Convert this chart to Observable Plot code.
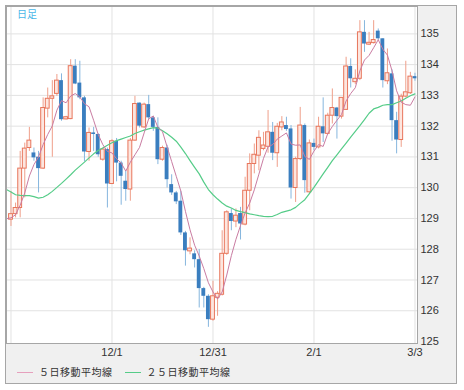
<!DOCTYPE html>
<html><head><meta charset="utf-8">
<script src="https://cdn.jsdelivr.net/npm/d3@7"></script>
<script src="https://cdn.jsdelivr.net/npm/@observablehq/plot@0.6"></script>
<style>
html,body{margin:0;padding:0;background:#fff;}
#frame{position:absolute;left:5px;top:5px;width:452px;height:379px;box-sizing:border-box;border:1px solid #a6a6a6;background:#f0f0f0;}
#chart{position:absolute;left:0;top:0;}
#title{position:absolute;left:11px;top:2px;font-family:"Noto Sans CJK JP",sans-serif;font-size:10px;line-height:12px;color:#4bb6e8;}
#legend{position:absolute;left:11px;top:360px;font-family:"Noto Sans CJK JP",sans-serif;font-size:10px;line-height:12px;color:#333;display:flex;align-items:center;letter-spacing:0.5px;white-space:nowrap;}
.sw{display:inline-block;width:16px;height:0;border-top:1px solid;margin-right:6px;}
.item{display:flex;align-items:center;margin-right:12px;}
</style></head><body>
<div id="frame"><div id="chart"></div><div id="title">日足</div>
<div id="legend"><span class="item"><span class="sw" id="sw5"></span><span>５日移動平均線</span></span><span class="item"><span class="sw" id="sw25"></span><span>２５日移動平均線</span></span></div></div>
<script>
// daily candles, index 0..88 (trading days)
const open  = [128.96,129.14,129.34,130.62,131.29,131.13,130.99,130.62,132.57,132.89,133.05,133.48,132.22,132.23,133.95,133.40,132.92,131.16,131.78,131.73,130.91,131.24,130.12,131.51,130.80,130.21,129.94,131.53,132.75,131.96,132.70,132.27,131.96,130.91,131.29,130.10,129.83,129.56,128.53,127.93,127.85,127.66,126.72,126.47,125.71,126.42,126.52,127.85,129.16,128.90,129.16,128.80,129.90,130.77,131.04,131.26,131.33,131.80,131.12,131.96,132.02,131.91,129.99,130.93,132.02,129.85,131.44,131.31,131.98,131.75,132.34,132.59,132.31,132.53,133.94,133.43,133.54,135.05,134.65,134.70,135.09,134.84,133.46,133.70,132.18,131.55,132.96,133.07,133.61];
const high  = [129.88,129.50,131.18,131.45,131.96,131.29,131.18,132.92,133.24,133.48,133.68,133.70,132.32,134.16,134.16,134.11,132.97,131.94,131.96,131.75,131.29,131.29,131.56,131.60,130.86,130.55,131.60,132.97,132.75,132.75,133.00,132.32,132.27,131.35,131.38,130.42,129.88,129.88,128.58,128.37,127.95,127.99,126.76,126.52,126.96,126.62,128.60,129.25,129.31,129.31,129.36,130.34,131.10,131.42,131.85,131.80,132.51,132.12,132.09,132.31,132.29,132.02,130.99,132.61,132.07,131.55,131.58,132.29,132.92,132.42,133.21,132.61,132.92,134.24,134.19,133.83,135.43,135.43,135.05,135.43,135.16,134.84,134.51,133.83,132.45,133.04,134.11,133.75,133.72];
const low   = [128.74,129.02,129.02,129.67,131.18,130.86,129.83,130.59,132.27,130.99,132.97,132.16,132.20,132.21,133.35,132.86,130.84,130.86,131.18,130.99,130.86,129.34,130.10,130.19,129.43,129.56,129.56,131.51,131.94,131.92,132.21,131.83,130.75,130.86,129.99,129.75,129.45,128.45,127.45,127.82,127.39,126.09,126.09,125.46,125.66,125.82,126.48,127.80,128.60,128.70,128.30,128.76,129.25,130.45,130.55,131.20,131.12,130.88,130.66,131.85,131.83,129.63,129.52,130.88,129.82,129.79,131.20,131.26,131.47,131.72,132.07,131.58,132.23,132.51,133.24,133.35,133.48,134.40,134.62,134.67,134.78,133.24,133.35,131.51,131.10,131.31,132.92,133.03,133.46];
const close = [129.14,129.34,130.62,131.27,131.53,130.97,130.62,132.59,132.89,132.97,133.48,132.21,132.29,133.95,133.37,132.92,131.16,131.78,131.73,131.07,131.24,130.12,131.51,130.80,130.37,129.94,131.53,132.72,132.00,132.70,132.27,131.96,130.91,131.29,130.26,129.83,129.54,128.53,127.95,128.02,127.66,126.72,126.47,125.71,126.47,126.55,127.85,129.20,128.90,129.09,128.82,129.90,130.77,131.07,131.62,131.37,131.80,131.12,131.98,132.12,131.89,129.99,130.93,132.02,130.23,131.44,131.31,131.98,131.75,132.34,132.59,132.31,132.92,133.94,133.54,133.54,135.05,134.67,134.71,134.80,134.84,133.48,133.72,132.18,131.55,132.96,133.10,133.61,133.54];

// moving averages, index -1..88
const ma5  = [128.99,129.02,129.12,129.43,129.83,130.38,130.75,131.00,131.40,131.73,132.01,132.52,132.83,132.76,132.98,133.06,132.95,132.73,132.63,132.19,131.73,131.40,131.18,131.13,130.94,130.80,130.54,130.83,131.07,131.31,131.78,132.24,132.33,131.96,131.82,131.33,130.85,130.37,129.89,129.23,128.63,128.13,127.78,127.37,126.91,126.61,126.38,126.61,127.16,127.79,128.32,128.77,129.18,129.50,129.93,130.44,130.95,131.33,131.40,131.58,131.68,131.78,131.42,131.38,131.39,131.01,130.92,131.19,131.40,131.34,131.76,131.99,132.19,132.38,132.82,133.06,133.25,133.80,134.15,134.30,134.55,134.81,134.50,134.31,133.80,133.15,132.78,132.70,132.68,132.95];
const ma25 = [129.94,129.86,129.77,129.75,129.74,129.74,129.71,129.66,129.69,129.77,129.88,130.01,130.14,130.28,130.42,130.57,130.70,130.83,130.97,131.10,131.21,131.29,131.38,131.46,131.53,131.58,131.63,131.68,131.76,131.82,131.87,131.91,131.95,131.94,131.85,131.75,131.64,131.51,131.32,131.11,130.88,130.66,130.45,130.18,129.94,129.77,129.63,129.50,129.40,129.34,129.26,129.22,129.19,129.15,129.12,129.09,129.07,129.06,129.07,129.13,129.20,129.24,129.28,129.36,129.49,129.61,129.81,130.01,130.23,130.45,130.66,130.88,131.07,131.26,131.45,131.64,131.83,132.02,132.21,132.42,132.56,132.61,132.68,132.70,132.70,132.76,132.82,132.91,132.99,133.05];

const yTicks = [125,126,127,128,129,130,131,132,133,134,135];
const gridDays = [0,22,44,66,88];
const tickDays = [22,44,66,88];
const tickLabels = ["12/1","12/31","2/1","3/3"];

const colUpStroke = "#e8765c", colUpFill = "#fde6df", colUpWick = "#ef9f8a";
const colDown = "#3a7ebf", colDownWick = "#86b6de";
const colMA5 = "#c97ca2", colMA25 = "#55cc88";

document.getElementById("sw5").style.borderColor = "#e6a0bd";
document.getElementById("sw25").style.borderColor = colMA25;

const candles = open.map((o, k) => ({i: k, open: o, high: high[k], low: low[k], close: close[k]}));
const ma5Rows = ma5.map((v, k) => ({i: k - 1, v}));
const ma25Rows = ma25.map((v, k) => ({i: k - 1, v}));
const up = d => d.close >= d.open;
const dn = d => d.close < d.open;
const hw = 0.42;

const chart = Plot.plot({
  width: 450, height: 360,
  marginLeft: 0, marginRight: 39, marginTop: 0, marginBottom: 23,
  style: {background: "transparent", fontFamily: "'Liberation Sans', Arial, sans-serif", fontSize: "11px", color: "#333", overflow: "visible"},
  x: {type: "linear", domain: [-0.98, 88.55]},
  y: {domain: [124.935, 135.89]},
  marks: [
    Plot.frame({fill: "#fff"}),
    Plot.gridY(yTicks.slice(1), {stroke: "#e2e2e2", strokeOpacity: 1}),
    Plot.gridX(gridDays, {stroke: "#e2e2e2", strokeOpacity: 1}),
    Plot.ruleX(candles, {filter: dn, x: "i", y1: "low", y2: "high", stroke: colDownWick}),
    Plot.ruleX(candles, {filter: up, x: "i", y1: "low", y2: "high", stroke: colUpWick}),
    Plot.rect(candles, {filter: dn, x1: d => d.i - hw, x2: d => d.i + hw, y1: "open", y2: "close", fill: colDown}),
    Plot.rect(candles, {filter: up, x1: d => d.i - hw, x2: d => d.i + hw, y1: "open", y2: "close", fill: colUpFill, stroke: colUpStroke}),
    Plot.line(ma25Rows, {x: "i", y: "v", stroke: colMA25, strokeWidth: 1.2, clip: true}),
    Plot.line(ma5Rows, {x: "i", y: "v", stroke: colMA5, strokeWidth: 1, clip: true}),
    Plot.axisY(yTicks, {anchor: "right", tickSize: 0, tickPadding: 3, label: null}),
    Plot.axisX(tickDays, {anchor: "bottom", tickSize: 0, tickPadding: 5, label: null, tickFormat: d => tickLabels[tickDays.indexOf(d)]}),
    Plot.frame({stroke: "#a6a6a6"})
  ]
});
document.getElementById("chart").appendChild(chart);
</script>
</body></html>
